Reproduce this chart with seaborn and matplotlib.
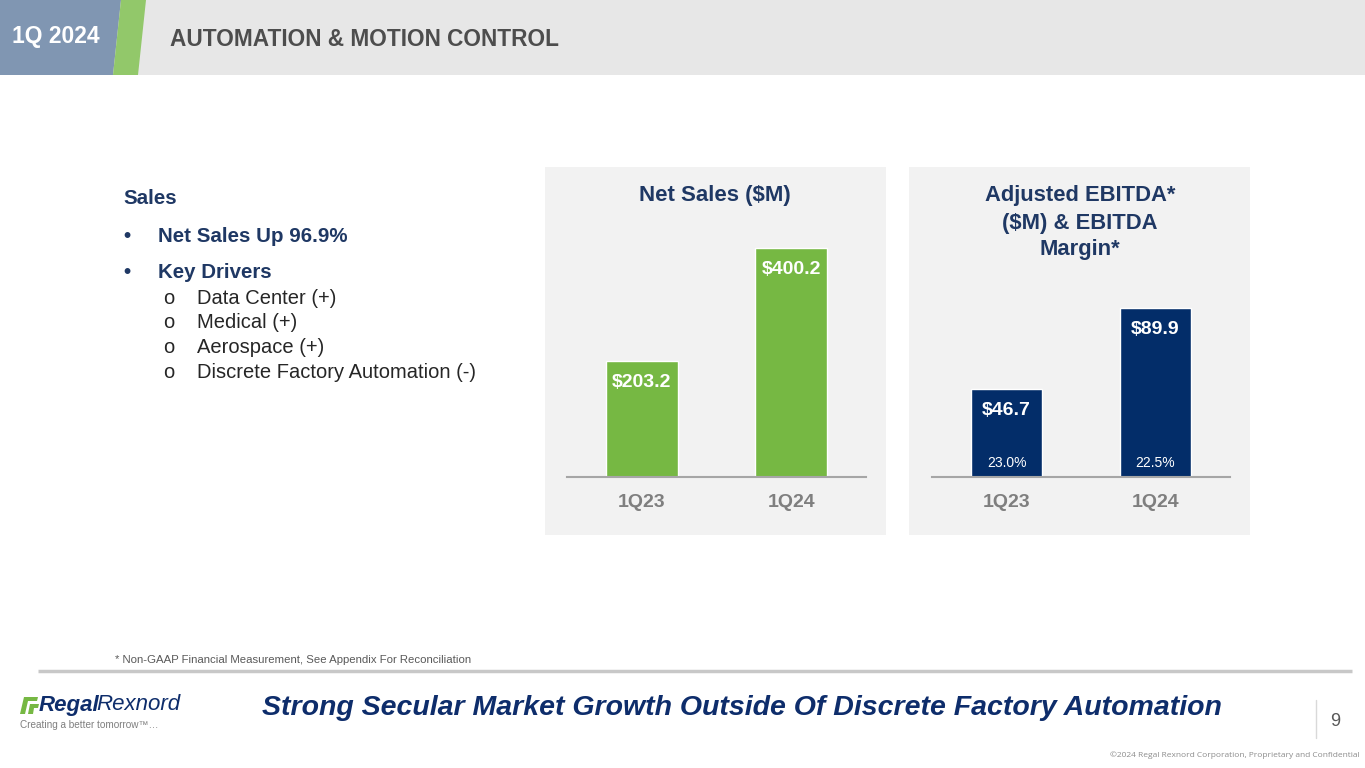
import matplotlib
matplotlib.use("Agg")
import matplotlib.pyplot as plt
from matplotlib.patches import Rectangle, Polygon
import seaborn as sns
import pandas as pd

# data
quarters = ["1Q23", "1Q24"]
net_sales = [203.2, 400.2]
ebitda = [46.7, 89.9]
ebitda_margin = ["23.0%", "22.5%"]
sales_labels = ["$203.2", "$400.2"]
ebitda_labels = ["$46.7", "$89.9"]

drivers = ["Data Center (+)", "Medical (+)", "Aerospace (+)", "Discrete Factory Automation (-)"]
ebitda_title = ["Adjusted EBITDA*", "($M) & EBITDA", "Margin*"]

sns.set_theme(style="white")
plt.rcParams["font.family"] = ["Liberation Sans", "DejaVu Sans"]

W, H = 1365, 768
fig = plt.figure(figsize=(W / 100, H / 100), dpi=100)
fig.patch.set_facecolor("white")

# background layer in pixel coords
bg = fig.add_axes([0, 0, 1, 1])
bg.set_xlim(0, W)
bg.set_ylim(H, 0)
bg.axis("off")

navy = "#1F3864"
green_bar = "#76B843"
navy_bar = "#032D69"
grey_tick = "#7F7F7F"

# header
bg.add_patch(Rectangle((0, 0), W, 75, color="#E7E7E7", lw=0))
bg.add_patch(Polygon([(0, 0), (121, 0), (113, 75), (0, 75)], closed=True, color="#8096B2", lw=0))
bg.add_patch(Polygon([(121, 0), (146, 0), (138, 75), (113, 75)], closed=True, color="#92C86A", lw=0))
bg.text(12, 37, "1Q 2024", color="white", fontsize=16.5, fontweight="bold", va="center")
bg.text(170, 39, "AUTOMATION & MOTION CONTROL", color="#4D4D4D", fontsize=16.3, fontweight="bold", va="center")

# chart panels
bg.add_patch(Rectangle((545, 167), 341, 368, color="#F2F2F2", lw=0))
bg.add_patch(Rectangle((909, 167), 341, 368, color="#F2F2F2", lw=0))
bg.text(715, 196, "Net Sales ($M)", color=navy, fontsize=16, fontweight="bold", ha="center", va="center")
for i, line in enumerate(ebitda_title):
    bg.text(1080, 196 + i * 27, line, color=navy, fontsize=15.8, fontweight="bold", ha="center", va="center")

# left bullet text
bg.text(123, 198, "Sales", color=navy, fontsize=14.8, fontweight="bold", va="center")
bg.text(123, 236, "\u2022", color=navy, fontsize=14.8, fontweight="bold", va="center")
bg.text(158, 236, "Net Sales Up 96.9%", color=navy, fontsize=14.8, fontweight="bold", va="center")
bg.text(123, 272, "\u2022", color=navy, fontsize=14.8, fontweight="bold", va="center")
bg.text(158, 272, "Key Drivers", color=navy, fontsize=14.8, fontweight="bold", va="center")
for i, d in enumerate(drivers):
    y = 298 + i * 24.7
    bg.text(163, y, "o", color="#262626", fontsize=14.5, va="center")
    bg.text(197, y, d, color="#262626", fontsize=14.5, va="center")

# footer
bg.text(115, 660, "* Non-GAAP Financial Measurement, See Appendix For Reconciliation",
        color="#595959", fontsize=8.2, va="center")
bg.plot([38, 1352], [671, 671], color="#C8C8C8", lw=2.5, solid_capstyle="butt")
bg.text(262, 708, "Strong Secular Market Growth Outside Of Discrete Factory Automation",
        color="#0E2D6B", fontsize=20.5, fontweight="bold", style="italic", va="center")
bg.plot([1316, 1316], [700, 738], color="#D9D9D9", lw=1)
bg.text(1330, 722, "9", color="#595959", fontsize=13, va="center")
bg.text(1360, 755, "\u00a92024 Regal Rexnord Corporation, Proprietary and Confidential",
        color="#8C8C8C", fontsize=6, ha="right", va="center", family=["Open Sans", "DejaVu Sans"])

# logo
bg.add_patch(Polygon([(20, 714), (24, 697), (38, 697), (37, 701), (28, 701), (25, 714)], color="#76B843", lw=0))
bg.add_patch(Polygon([(28, 714), (30, 704), (39, 704), (38, 708), (34, 708), (33, 714)], color="#76B843", lw=0))
bg.text(39, 705, "Regal", color="#0E2D6B", fontsize=16, fontweight="bold", style="italic", va="center")
bg.text(96, 705, "Rexnord", color="#0E2D6B", fontsize=16, style="italic", va="center")
bg.text(20, 725, "Creating a better tomorrow\u2122\u2026", color="#7F7F7F", fontsize=7.2, va="center")


def px_axes(left, top, width, height):
    return fig.add_axes([left / W, 1 - (top + height) / H, width / W, height / H])


def draw_bars(ax, values, color, ymax, labels):
    df = pd.DataFrame({"q": quarters, "v": values})
    sns.barplot(data=df, x="q", y="v", color=color, saturation=1, width=0.483, ax=ax)
    ax.set_xlim(-0.5, 1.5)
    ax.set_ylim(0, ymax)
    ax.set_facecolor("none")
    for s in ["top", "left", "right"]:
        ax.spines[s].set_visible(False)
    ax.spines["bottom"].set_color("#A6A6A6")
    ax.spines["bottom"].set_linewidth(1.5)
    ax.set_yticks([])
    ax.set_xlabel("")
    ax.set_ylabel("")
    ax.tick_params(axis="x", length=0, pad=12, labelsize=14, labelcolor=grey_tick)
    for t in ax.get_xticklabels():
        t.set_fontweight("bold")
    for i, v in enumerate(values):
        ax.annotate(labels[i], (i, v), xytext=(0, -15.5), textcoords="offset points",
                    ha="center", va="center", color="white", fontsize=14, fontweight="bold")


ax1 = px_axes(567, 167, 299, 310)
draw_bars(ax1, net_sales, green_bar, 310 / 0.573, sales_labels)

ax2 = px_axes(932, 167, 298, 310)
draw_bars(ax2, ebitda, navy_bar, 310 / 1.88, ebitda_labels)
for i, m in enumerate(ebitda_margin):
    ax2.annotate(m, (i, 0), xytext=(0, 10), textcoords="offset points",
                 ha="center", va="center", color="white", fontsize=10)

fig.savefig("out.png", dpi=100)
